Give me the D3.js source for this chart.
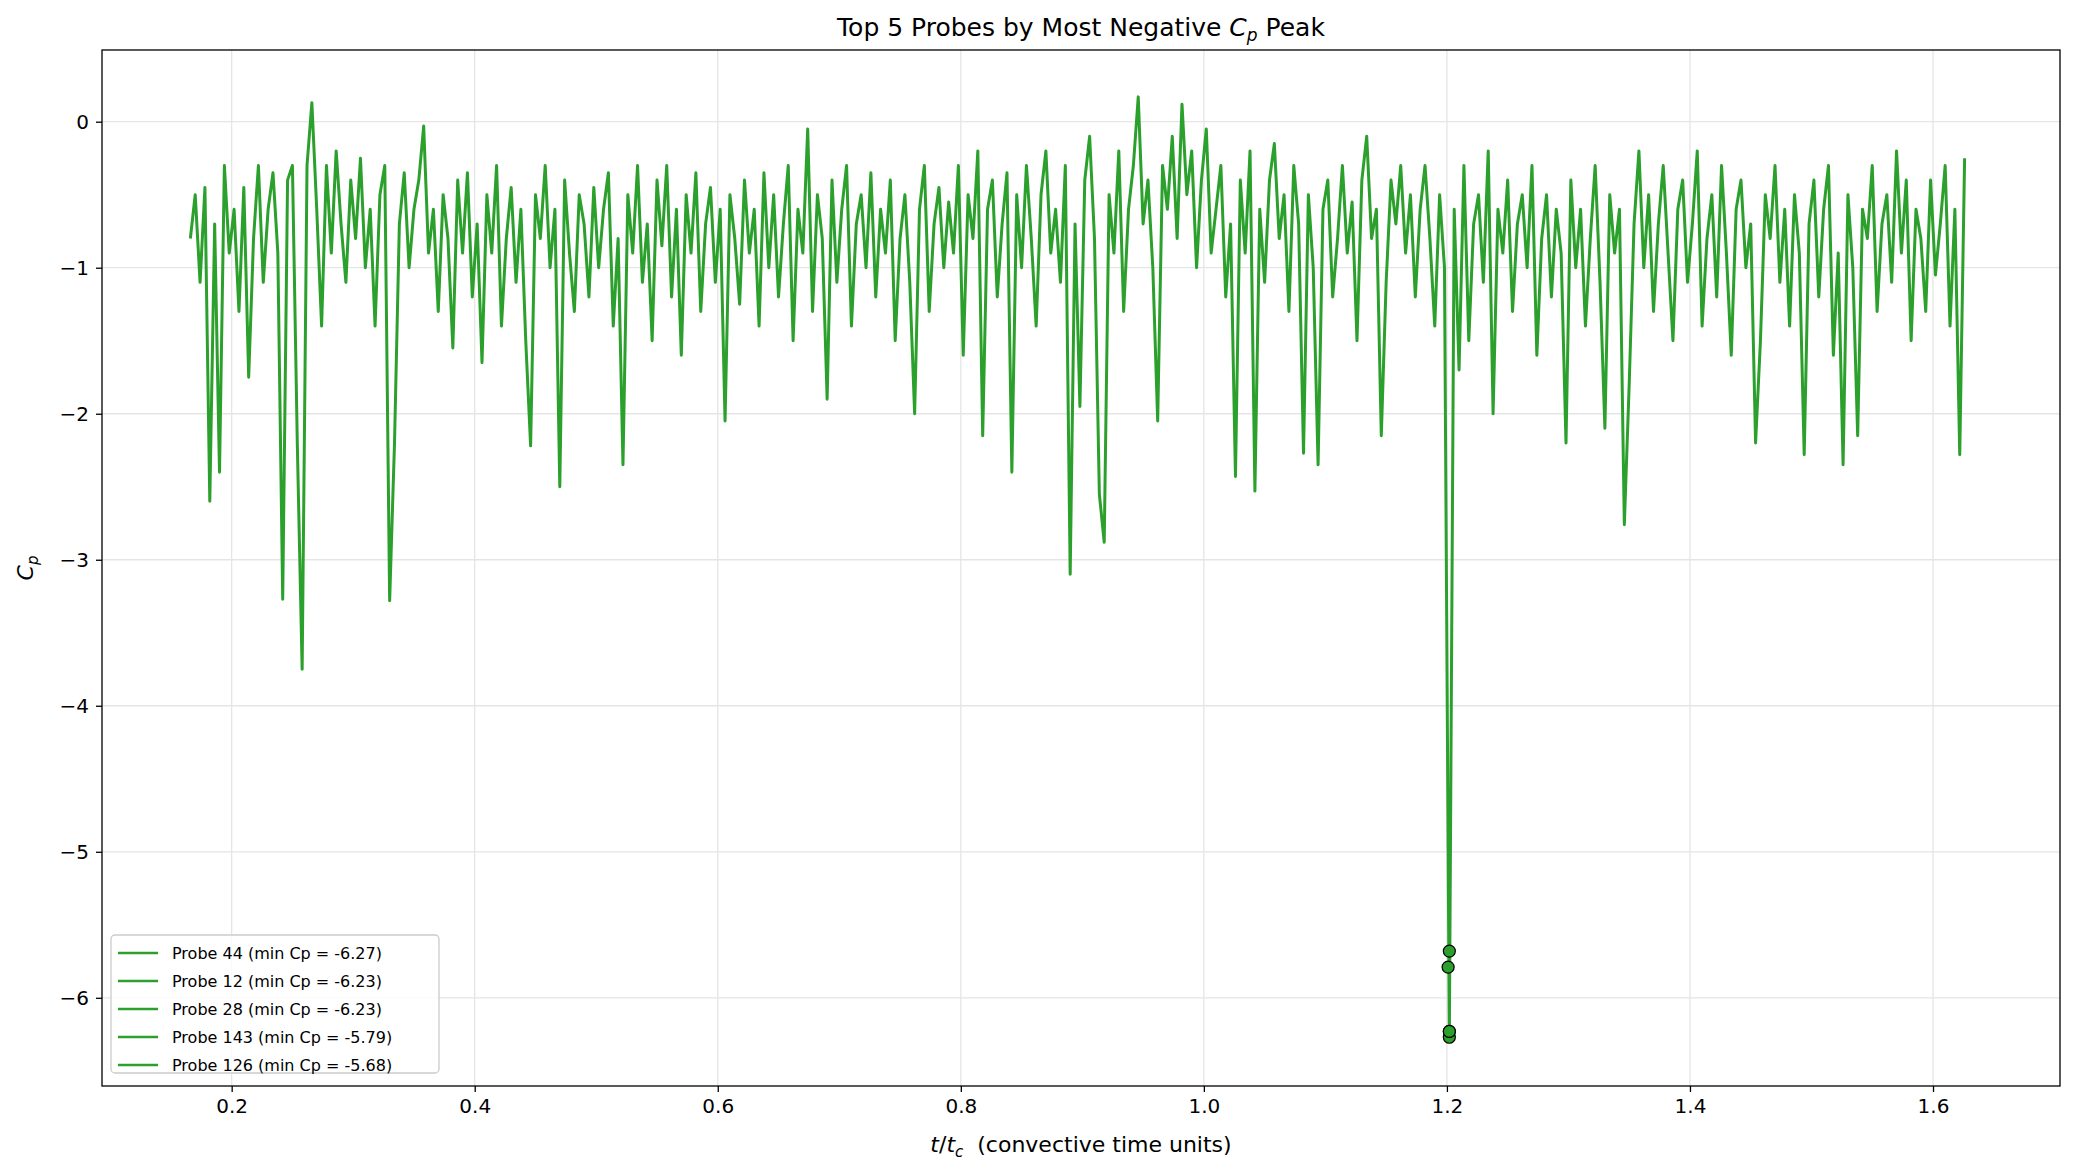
<!DOCTYPE html>
<html><head><meta charset="utf-8">
<script src="https://cdn.jsdelivr.net/npm/d3@7"></script>
<style>body{margin:0;background:#fff}svg{font-family:"DejaVu Sans",sans-serif}</style>
</head><body>
<svg id="c" width="2075" height="1174"></svg>
<script>
const tStart = 0.166, tStep = 0.004;
const cpValues = [
-0.8,-0.5,-1.1,-0.45,-2.6,-0.7,-2.4,-0.3,-0.9,-0.6,-1.3,-0.45,-1.75,-0.8,-0.3,-1.1,-0.6,-0.35,-0.9,-3.27,-0.4,-0.3,-2.2,-3.75,-0.3,
0.13,-0.6,-1.4,-0.3,-0.9,-0.2,-0.7,-1.1,-0.4,-0.8,-0.25,-1.0,-0.6,-1.4,-0.5,-0.3,-3.28,-2.2,-0.7,-0.35,-1.0,-0.6,-0.4,-0.03,-0.9,
-0.6,-1.3,-0.5,-0.8,-1.55,-0.4,-0.9,-0.35,-1.2,-0.7,-1.65,-0.5,-0.9,-0.3,-1.4,-0.8,-0.45,-1.1,-0.6,-1.5,-2.22,-0.5,-0.8,-0.3,-1.0,
-0.6,-2.5,-0.4,-0.9,-1.3,-0.5,-0.7,-1.2,-0.45,-1.0,-0.6,-0.35,-1.4,-0.8,-2.35,-0.5,-0.9,-0.3,-1.1,-0.7,-1.5,-0.4,-0.85,-0.3,-1.2,
-0.6,-1.6,-0.5,-0.9,-0.35,-1.3,-0.7,-0.45,-1.1,-0.6,-2.05,-0.5,-0.8,-1.25,-0.4,-0.9,-0.6,-1.4,-0.35,-1.0,-0.5,-1.2,-0.7,-0.3,-1.5,
-0.6,-0.9,-0.05,-1.3,-0.5,-0.8,-1.9,-0.4,-1.1,-0.6,-0.3,-1.4,-0.7,-0.5,-1.0,-0.35,-1.2,-0.6,-0.9,-0.4,-1.5,-0.8,-0.5,-1.1,-2.0,
-0.6,-0.3,-1.3,-0.7,-0.45,-1.0,-0.55,-0.9,-0.3,-1.6,-0.5,-0.8,-0.2,-2.15,-0.6,-0.4,-1.2,-0.7,-0.35,-2.4,-0.5,-1.0,-0.3,-0.8,-1.4,
-0.5,-0.2,-0.9,-0.6,-1.1,-0.3,-3.1,-0.7,-1.95,-0.4,-0.1,-0.8,-2.55,-2.88,-0.5,-0.9,-0.2,-1.3,-0.6,-0.3,0.17,-0.7,-0.4,-1.0,-2.05,
-0.3,-0.6,-0.1,-0.8,0.12,-0.5,-0.2,-1.0,-0.4,-0.05,-0.9,-0.6,-0.3,-1.2,-0.7,-2.43,-0.4,-0.9,-0.2,-2.53,-0.6,-1.1,-0.4,-0.15,-0.8,
-0.5,-1.3,-0.3,-0.7,-2.27,-0.5,-1.0,-2.35,-0.6,-0.4,-1.2,-0.8,-0.3,-0.9,-0.55,-1.5,-0.4,-0.1,-0.8,-0.6,-2.15,-1.1,-0.4,-0.7,-0.3,
-0.9,-0.5,-1.2,-0.6,-0.3,-0.8,-1.4,-0.5,-1.0,-6.27,-0.6,-1.7,-0.3,-1.5,-0.7,-0.5,-1.1,-0.2,-2.0,-0.6,-0.9,-0.4,-1.3,-0.7,-0.5,
-1.0,-0.3,-1.6,-0.8,-0.5,-1.2,-0.6,-0.9,-2.2,-0.4,-1.0,-0.6,-1.4,-0.8,-0.3,-1.1,-2.1,-0.5,-0.9,-0.6,-2.76,-1.8,-0.7,-0.2,-1.0,
-0.5,-1.3,-0.7,-0.3,-0.9,-1.5,-0.6,-0.4,-1.1,-0.7,-0.2,-1.4,-0.8,-0.5,-1.2,-0.3,-0.9,-1.6,-0.6,-0.4,-1.0,-0.7,-2.2,-1.5,-0.5,
-0.8,-0.3,-1.1,-0.6,-1.4,-0.5,-0.9,-2.28,-0.7,-0.4,-1.2,-0.6,-0.3,-1.6,-0.9,-2.35,-0.5,-1.0,-2.15,-0.6,-0.8,-0.3,-1.3,-0.7,-0.5,
-1.1,-0.2,-0.9,-0.4,-1.5,-0.6,-0.8,-1.3,-0.4,-1.05,-0.7,-0.3,-1.4,-0.6,-2.28,-0.25
];
const probeLabels = ["Probe 44 (min Cp = -6.27)","Probe 12 (min Cp = -6.23)","Probe 28 (min Cp = -6.23)","Probe 143 (min Cp = -5.79)","Probe 126 (min Cp = -5.68)"];
const peakT = [1.202,1.202,1.202,1.201,1.202];
const peakCp = [-6.27,-6.23,-6.23,-5.79,-5.68];
const xTicks = [0.2,0.4,0.6,0.8,1.0,1.2,1.4,1.6];
const yTicks = [0,-1,-2,-3,-4,-5,-6];

const green = "#2ca02c";
const svg = d3.select("#c");
const L=102,R=2060,T=50,B=1086;
const x = d3.scaleLinear().domain([0.0933,1.7045]).range([L,R]);
const y = d3.scaleLinear().domain([-6.604,0.491]).range([B,T]);
const data = cpValues.map((v,i)=>({t:tStart+i*tStep,v}));

const g = svg.append("g");
g.selectAll(".gx").data(xTicks).join("line").attr("x1",d=>x(d)).attr("x2",d=>x(d)).attr("y1",T).attr("y2",B).attr("stroke","#e5e5e5").attr("stroke-width",1.3);
g.selectAll(".gy").data(yTicks).join("line").attr("y1",d=>y(d)).attr("y2",d=>y(d)).attr("x1",L).attr("x2",R).attr("stroke","#e5e5e5").attr("stroke-width",1.3);

svg.append("clipPath").attr("id","cl").append("rect").attr("x",L).attr("y",T).attr("width",R-L).attr("height",B-T);
const line = d3.line().x(d=>x(d.t)).y(d=>y(d.v));
g.append("path").datum(data).attr("d",line).attr("fill","none").attr("stroke",green).attr("stroke-width",3).attr("stroke-linejoin","round").attr("clip-path","url(#cl)");

g.selectAll(".pk").data(peakCp).join("circle").attr("cx",(d,i)=>x(peakT[i])).attr("cy",d=>y(d)).attr("r",6).attr("fill",green).attr("stroke","#000").attr("stroke-width",1.2);

const xa = svg.append("g").attr("transform",`translate(0,${B})`).call(d3.axisBottom(x).tickValues(xTicks).tickFormat(d3.format(".1f")).tickSize(6).tickPadding(7));
const ya = svg.append("g").attr("transform",`translate(${L},0)`).call(d3.axisLeft(y).tickValues(yTicks).tickFormat(d=>d<0?"\u2212"+Math.abs(d):d).tickSize(6).tickPadding(7));
[xa,ya].forEach(a=>{a.select(".domain").remove();a.selectAll("text").attr("font-size",20).attr("fill","#000").attr("font-family","DejaVu Sans");a.selectAll("line").attr("stroke","#000").attr("stroke-width",1.3);});
svg.append("rect").attr("x",L).attr("y",T).attr("width",R-L).attr("height",B-T).attr("fill","none").attr("stroke","#000").attr("stroke-width",1.3);

const tt = svg.append("text").attr("x",(L+R)/2).attr("y",36).attr("text-anchor","middle").attr("font-size",25);
tt.append("tspan").text("Top 5 Probes by Most Negative ");
tt.append("tspan").attr("font-style","italic").text("C");
tt.append("tspan").attr("font-style","italic").attr("font-size",17).attr("dy",5).text("p");
tt.append("tspan").attr("dy",-5).text(" Peak");
const xl = svg.append("text").attr("x",(L+R)/2).attr("y",1152).attr("text-anchor","middle").attr("font-size",22);
xl.append("tspan").attr("font-style","italic").text("t");
xl.append("tspan").text("/");
xl.append("tspan").attr("font-style","italic").text("t");
xl.append("tspan").attr("font-style","italic").attr("font-size",15).attr("dy",5).text("c");
xl.append("tspan").attr("dy",-5).text("\u00a0 (convective time units)");
const yl = svg.append("text").attr("transform",`translate(33,${(T+B)/2}) rotate(-90)`).attr("text-anchor","middle").attr("font-size",22);
yl.append("tspan").attr("font-style","italic").text("C");
yl.append("tspan").attr("font-style","italic").attr("font-size",15).attr("dy",5).text("p");

const lg = svg.append("g").attr("transform","translate(111,935)");
lg.append("rect").attr("width",328).attr("height",138).attr("rx",4).attr("fill","#fff").attr("fill-opacity",0.8).attr("stroke","#ccc").attr("stroke-width",1.3);
probeLabels.forEach((s,i)=>{
  const yy = 18+i*28;
  lg.append("line").attr("x1",7).attr("x2",47).attr("y1",yy).attr("y2",yy).attr("stroke",green).attr("stroke-width",2.6);
  lg.append("text").attr("x",61).attr("y",yy+5.5).attr("font-size",16).text(s);
});
</script>
</body></html>
